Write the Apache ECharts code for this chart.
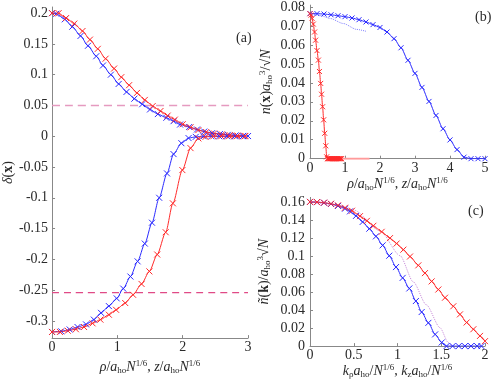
<!DOCTYPE html>
<html><head><meta charset="utf-8">
<script src="https://cdn.jsdelivr.net/npm/echarts@6/dist/echarts.min.js"></script>
<style>html,body{margin:0;padding:0;background:#fff}#c{width:498px;height:380px}</style>
</head><body><div id="c"></div>
<script>
// ---------- Panel (a): delta(x) ----------
const aBlueUpX = [0, 0.065, 0.195, 0.31, 0.436, 0.55, 0.677, 0.78, 0.9, 1.02, 1.14, 1.26, 1.38, 1.5, 1.62, 1.75, 1.86, 1.96, 2.1, 2.22, 2.33, 2.45, 2.57, 2.69, 2.81, 2.93, 3.0];
const aBlueUpY = [0.2, 0.199, 0.19, 0.178, 0.163, 0.147, 0.13, 0.115, 0.1, 0.085, 0.072, 0.061, 0.052, 0.0435, 0.036, 0.030, 0.0245, 0.019, 0.015, 0.011, 0.0076, 0.005, 0.0035, 0.0022, 0.0013, 0.0006, 0.0003];
const aRedUpX = [0, 0.1, 0.215, 0.34, 0.466, 0.58, 0.7, 0.82, 0.95, 1.06, 1.18, 1.3, 1.42, 1.54, 1.66, 1.77, 1.88, 2.0, 2.12, 2.24, 2.36, 2.48, 2.6, 2.72, 2.84, 2.96];
const aRedUpY = [0.2, 0.2, 0.192, 0.183, 0.171, 0.157, 0.142, 0.126, 0.11, 0.096, 0.083, 0.0704, 0.059, 0.049, 0.041, 0.0335, 0.027, 0.0195, 0.0145, 0.01, 0.0068, 0.0045, 0.003, 0.0018, 0.001, 0.0005];
const aBlueLowX = [0, 0.14, 0.27, 0.39, 0.52, 0.64, 0.75, 0.87, 0.99, 1.09, 1.2, 1.31, 1.42, 1.53, 1.64, 1.76, 1.86, 1.98, 2.09, 2.2, 2.32, 2.44, 2.56, 2.68, 2.8, 2.92];
const aBlueLowY = [-0.318, -0.317, -0.314, -0.31, -0.3057, -0.298, -0.287, -0.276, -0.2635, -0.2476, -0.228, -0.2033, -0.1744, -0.1405, -0.1, -0.0604, -0.029, -0.0113, -0.003, -0.001, 0, 0, 0, 0, 0, 0];
const aRedLowX = [0, 0.12, 0.24, 0.365, 0.49, 0.62, 0.74, 0.87, 0.98, 1.12, 1.24, 1.37, 1.49, 1.61, 1.74, 1.85, 1.995, 2.12, 2.24, 2.35, 2.47, 2.59, 2.71, 2.83, 2.95];
const aRedLowY = [-0.318, -0.318, -0.316, -0.3136, -0.31, -0.304, -0.298, -0.29, -0.282, -0.271, -0.2576, -0.24, -0.2196, -0.1922, -0.156, -0.109, -0.055, -0.0193, -0.0035, -0.001, 0, 0, 0, 0, 0];
const aDashUpper = 0.05;
const aDashLower = -0.254;
const aYTicks = [-0.3, -0.25, -0.2, -0.15, -0.1, -0.05, 0, 0.05, 0.1, 0.15, 0.2];

// ---------- Panel (b): n(x) ----------
const bBlueX = [0, 0.2, 0.4, 0.6, 0.8, 1.0, 1.2, 1.4, 1.6, 1.8, 2.0, 2.2, 2.4, 2.6, 2.8, 3.0, 3.2, 3.4, 3.6, 3.8, 4.0, 4.2, 4.4, 4.6, 4.8, 5.0];
const bBlueY = [0.0765, 0.0765, 0.0763, 0.0759, 0.0754, 0.0749, 0.0742, 0.0733, 0.0721, 0.0707, 0.0692, 0.0668, 0.0633, 0.0585, 0.0519, 0.045, 0.0376, 0.0302, 0.0228, 0.0158, 0.0099, 0.0048, 0.0008, 0, 0, 0];
const bBlueDotX = [0, 0.3, 0.57, 0.95, 1.33, 1.6];
const bBlueDotY = [0.0765, 0.0755, 0.074, 0.0713, 0.0682, 0.0672];
const bRedX = [0, 0.03, 0.06, 0.095, 0.13, 0.16, 0.2, 0.24, 0.27, 0.305, 0.33, 0.36, 0.39, 0.42, 0.45, 0.476, 0.5, 0.52, 0.54, 0.56, 0.58, 0.6, 0.62, 0.64, 0.66, 0.68, 0.7, 0.72, 0.74, 0.76, 0.78, 0.8, 0.82, 0.84, 0.86, 0.88, 0.9];
const bRedY = [0.0765, 0.0757, 0.074, 0.071, 0.0668, 0.0625, 0.057, 0.052, 0.046, 0.0397, 0.034, 0.0274, 0.0205, 0.0134, 0.0068, 0.001, 0, 0, 0, 0, 0, 0, 0, 0, 0, 0, 0, 0, 0, 0, 0, 0, 0, 0, 0, 0, 0];
const bRedTailX = [0.45, 1.7];
const bRedTailY = [0, 0];
const bYTicks = [0, 0.01, 0.02, 0.03, 0.04, 0.05, 0.06, 0.07, 0.08];

// ---------- Panel (c): n~(k) ----------
const cRedX = [0, 0.08, 0.16, 0.24, 0.32, 0.4, 0.48, 0.571, 0.65, 0.724, 0.819, 0.914, 0.99, 1.067, 1.143, 1.238, 1.314, 1.39, 1.467, 1.543, 1.638, 1.714, 1.79, 1.867, 1.943, 2.0];
const cRedY = [0.16, 0.1598, 0.1592, 0.158, 0.1562, 0.1535, 0.1502, 0.1442, 0.139, 0.1335, 0.1268, 0.1198, 0.1138, 0.107, 0.0994, 0.0896, 0.081, 0.0718, 0.0628, 0.0537, 0.0442, 0.0352, 0.0262, 0.0187, 0.0113, 0.0055];
const cBlueX = [0, 0.08, 0.16, 0.24, 0.32, 0.4, 0.457, 0.526, 0.602, 0.678, 0.754, 0.83, 0.906, 0.983, 1.059, 1.135, 1.21, 1.276, 1.353, 1.43, 1.505, 1.56, 1.63, 1.7, 1.77, 1.84, 1.91, 1.96];
const cBlueY = [0.16, 0.1597, 0.159, 0.1577, 0.1555, 0.1525, 0.1495, 0.1445, 0.1378, 0.1303, 0.1218, 0.1118, 0.1003, 0.0877, 0.0757, 0.064, 0.050, 0.0378, 0.0258, 0.013, 0.004, 0, 0, 0, 0, 0, 0, 0];
const cDotX = [0, 0.3, 0.5, 0.8, 1.03, 1.18, 1.33, 1.486, 1.58, 1.62];
const cDotY = [0.16, 0.157, 0.151, 0.128, 0.1003, 0.0713, 0.0458, 0.0204, 0.004, 0];
const cYTicks = [0, 0.02, 0.04, 0.06, 0.08, 0.1, 0.12, 0.14, 0.16];

// ---------- drawing ----------
const FONT = 'Liberation Serif';
const TXT = '#2a2a2a';
const BLUE = '#2a2aff', RED = '#ff2a2a';
const XSYM = 'path://M0,0L10,10M10,0L0,10';
const zip = (xs, ys) => xs.map((x, i) => [x, ys[i]]);

const rich = {
  n: {fontFamily: FONT, fontSize: 14, color: TXT},
  i: {fontFamily: FONT, fontSize: 14, fontStyle: 'italic', color: TXT},
  b: {fontFamily: FONT, fontSize: 14, fontWeight: 'bold', color: TXT},
  sub: {fontFamily: FONT, fontSize: 9, color: TXT, padding: [7, 0, 0, 0]},
  sup: {fontFamily: FONT, fontSize: 9, color: TXT, padding: [0, 0, 7, 0]}
};

function markSeries(xi, data, color, size) {
  return {
    type: 'line', xAxisIndex: xi, yAxisIndex: xi, data: data,
    symbol: XSYM, symbolSize: size || 6, showAllSymbol: true, smooth: 0.25, smoothMonotone: 'x',
    lineStyle: {color: color, width: 1},
    itemStyle: {color: 'rgba(0,0,0,0)', borderColor: color, borderWidth: 1},
    silent: true, animation: false, z: 3
  };
}
function plainSeries(xi, data, color, type, width, z) {
  return {
    type: 'line', xAxisIndex: xi, yAxisIndex: xi, data: data, showSymbol: false, smooth: 0.25, smoothMonotone: 'x',
    lineStyle: {color: color, width: width, type: type},
    silent: true, animation: false, z: z || 2
  };
}
const axisCommon = {
  axisLine: {onZero: false, lineStyle: {color: '#888', width: 1}},
  axisTick: {inside: true, length: 3, lineStyle: {color: '#888'}},
  splitLine: {show: false},
  nameLocation: 'middle',
  nameTextStyle: {fontFamily: FONT, rich: rich}
};
const lbl = (margin) => ({fontFamily: FONT, fontSize: 14, color: TXT, margin: margin});
const fmt = v => String(+(+v).toFixed(3));

const option = {
  animation: false,
  backgroundColor: '#fff',
  textStyle: {fontFamily: FONT},
  grid: [
    {left: 49, top: 7, width: 199, height: 340},
    {left: 310, top: 5, width: 175, height: 153.7},
    {left: 310, top: 197.4, width: 175, height: 151.3}
  ],
  xAxis: [
    Object.assign({}, axisCommon, {gridIndex: 0, type: 'value', min: 0, max: 3, interval: 1,
      axisLabel: Object.assign(lbl(2), {formatter: fmt}),
      name: '{i|ρ}{n|/}{i|a}{sub|ho}{i|N}{sup|1/6}{n|, }{i|z}{n|/}{i|a}{sub|ho}{i|N}{sup|1/6}', nameGap: 18}),
    Object.assign({}, axisCommon, {gridIndex: 1, type: 'value', min: 0, max: 5, interval: 1,
      axisLabel: Object.assign(lbl(3), {formatter: fmt}),
      name: '{i|ρ}{n|/}{i|a}{sub|ho}{i|N}{sup|1/6}{n|, }{i|z}{n|/}{i|a}{sub|ho}{i|N}{sup|1/6}', nameGap: 14}),
    Object.assign({}, axisCommon, {gridIndex: 2, type: 'value', min: 0, max: 2, interval: 0.5,
      axisLabel: Object.assign(lbl(2), {formatter: fmt}),
      name: '{i|k}{sub|ρ}{i|a}{sub|ho}{n|/}{i|N}{sup|1/6}{n|, }{i|k}{sub|z}{i|a}{sub|ho}{n|/}{i|N}{sup|1/6}', nameGap: 13})
  ],
  yAxis: [
    Object.assign({}, axisCommon, {gridIndex: 0, type: 'value', min: -0.328, max: 0.21,
      axisLabel: Object.assign(lbl(4), {formatter: fmt, customValues: aYTicks}),
      axisTick: Object.assign({}, axisCommon.axisTick, {customValues: aYTicks}),
      name: '{i|δ}{n|(}{b|x}{n|)}', nameGap: 31}),
    Object.assign({}, axisCommon, {gridIndex: 1, type: 'value', min: 0, max: 0.081,
      axisLabel: Object.assign(lbl(5), {formatter: fmt, customValues: bYTicks}),
      axisTick: Object.assign({}, axisCommon.axisTick, {customValues: bYTicks}),
      name: '{i|n}{n|(}{b|x}{n|)}{i|a}{sub|ho}{sup|3}{n|/√}{i|N}', nameGap: 36}),
    Object.assign({}, axisCommon, {gridIndex: 2, type: 'value', min: 0, max: 0.165,
      axisLabel: Object.assign(lbl(5), {formatter: fmt, customValues: cYTicks}),
      axisTick: Object.assign({}, axisCommon.axisTick, {customValues: cYTicks}),
      name: '{i|ñ}{n|(}{b|k}{n|)/}{i|a}{sub|ho}{sup|3}{n|√}{i|N}', nameGap: 38})
  ],
  series: [
    plainSeries(0, [[0, aDashUpper], [3, aDashUpper]], '#e59ac0', [8, 5], 1.6, 1),
    plainSeries(0, [[0, aDashLower], [3, aDashLower]], '#e04a86', [7, 5], 1.2, 1),
    markSeries(0, zip(aBlueUpX, aBlueUpY), BLUE),
    markSeries(0, zip(aRedUpX, aRedUpY), RED),
    markSeries(0, zip(aBlueLowX, aBlueLowY), BLUE),
    markSeries(0, zip(aRedLowX, aRedLowY), RED),

    plainSeries(1, zip(bBlueDotX, bBlueDotY), '#8080ff', 'dotted', 1, 2),
    plainSeries(1, zip(bRedTailX, bRedTailY), '#ff9a9a', 'solid', 2, 2),
    markSeries(1, zip(bBlueX, bBlueY), BLUE, 5),
    markSeries(1, zip(bRedX, bRedY), RED, 5),

    plainSeries(2, zip(cDotX, cDotY), '#c68ad8', 'dotted', 1, 2),
    markSeries(2, zip(cBlueX, cBlueY), BLUE, 6),
    markSeries(2, zip(cRedX, cRedY), RED, 6)
  ],
  graphic: [
    {type: 'text', left: 236, top: 31, style: {text: '(a)', font: '14px "Liberation Serif"', fill: TXT}},
    {type: 'text', left: 475, top: 10, style: {text: '(b)', font: '14px "Liberation Serif"', fill: TXT}},
    {type: 'text', left: 468, top: 204, style: {text: '(c)', font: '14px "Liberation Serif"', fill: TXT}}
  ]
};
const chart = echarts.init(document.getElementById('c'), null, {renderer: 'canvas'});
chart.setOption(option);
</script>
</body></html>
